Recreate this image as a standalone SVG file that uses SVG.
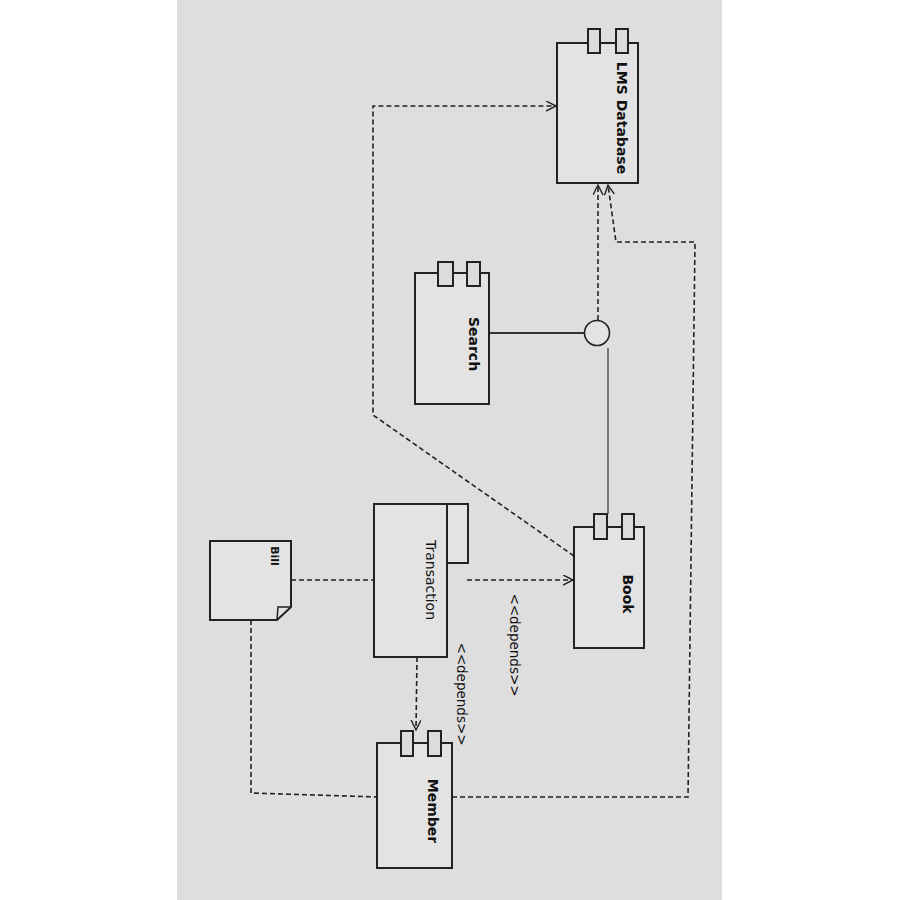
<svg xmlns="http://www.w3.org/2000/svg" width="900" height="900" viewBox="0 0 900 900">
<defs>
<marker id="arr" markerWidth="12" markerHeight="12" refX="10" refY="5" orient="auto" markerUnits="userSpaceOnUse">
<path d="M0,0 L10,5 L0,10" fill="none" stroke="#222" stroke-width="1.4"/>
</marker>
</defs>
<style>
.box{fill:#e3e3e3;stroke:#222;stroke-width:2}
.tab{fill:#dcdcdc;stroke:#222;stroke-width:2}
.dash{fill:none;stroke:#222;stroke-width:1.6;stroke-dasharray:5 3}
.solid{fill:none;stroke:#333;stroke-width:1.8}
.lbl{font-family:"DejaVu Sans",sans-serif;font-size:14px;fill:#111;text-anchor:middle;dominant-baseline:central}
.b{font-weight:bold}
</style>
<rect x="0" y="0" width="900" height="900" fill="#ffffff"/>
<rect x="177" y="0" width="545" height="900" fill="#dedede"/>

<g id="connectors">
<path class="dash" d="M574,556 L373,415 L373,106 L556,106" marker-end="url(#arr)"/>
<path class="dash" d="M598,320 L598,185" marker-end="url(#arr)"/>
<path class="dash" d="M452,797 L688,797 L695,242 L616,242 L608,185" marker-end="url(#arr)"/>
<path class="dash" d="M467,580 L573,580" marker-end="url(#arr)"/>
<path class="dash" d="M417,657 L416,730" marker-end="url(#arr)"/>
<path class="dash" d="M291,580 L374,580"/>
<path class="dash" d="M251,620 L251,793 L377,797"/>
<path class="solid" d="M489,333 L584,333"/>
<path d="M608,348 L608,514" fill="none" stroke="#777" stroke-width="2"/>
</g>

<g id="interface">
<circle cx="597" cy="333" r="12.5" fill="#e3e3e3" stroke="#222" stroke-width="1.6"/>
</g>

<g id="lms-database">
<rect class="box" x="557" y="43" width="81" height="140"/>
<rect class="tab" x="588" y="29" width="12" height="24"/>
<rect class="tab" x="616" y="29" width="12" height="24"/>
<text class="lbl b" transform="translate(622,118) rotate(90)">LMS Database</text>
</g>

<g id="search">
<rect class="box" x="415" y="273" width="74" height="131"/>
<rect class="tab" x="438" y="262" width="15" height="24"/>
<rect class="tab" x="467" y="262" width="13" height="24"/>
<text class="lbl b" transform="translate(474,344) rotate(90)">Search</text>
</g>

<g id="book">
<rect class="box" x="574" y="527" width="70" height="121"/>
<rect class="tab" x="594" y="514" width="13" height="25"/>
<rect class="tab" x="622" y="514" width="12" height="25"/>
<text class="lbl b" transform="translate(628,594) rotate(90)">Book</text>
</g>

<g id="transaction">
<rect class="box" x="374" y="504" width="73" height="153"/>
<rect class="box" x="447" y="504" width="21" height="59"/>
<text class="lbl" transform="translate(431,580) rotate(90)">Transaction</text>
</g>

<g id="bill">
<path class="box" d="M210,541 L291,541 L291,607 L277,620 L210,620 Z"/>
<path d="M291,607 L278,607 L277,620" fill="none" stroke="#222" stroke-width="1.5"/>
<text class="lbl b" style="font-size:11px" transform="translate(274,556) rotate(90)">Bill</text>
</g>

<g id="member">
<rect class="box" x="377" y="743" width="75" height="125"/>
<rect class="tab" x="401" y="731" width="12" height="25"/>
<rect class="tab" x="428" y="731" width="13" height="25"/>
<text class="lbl b" transform="translate(433,811) rotate(90)">Member</text>
</g>

<g id="labels">
<text class="lbl" style="font-size:13.5px" transform="translate(515,645) rotate(90)">&lt;&lt;depends&gt;&gt;</text>
<text class="lbl" style="font-size:13.5px" transform="translate(462,694) rotate(90)">&lt;&lt;depends&gt;&gt;</text>
</g>
</svg>
